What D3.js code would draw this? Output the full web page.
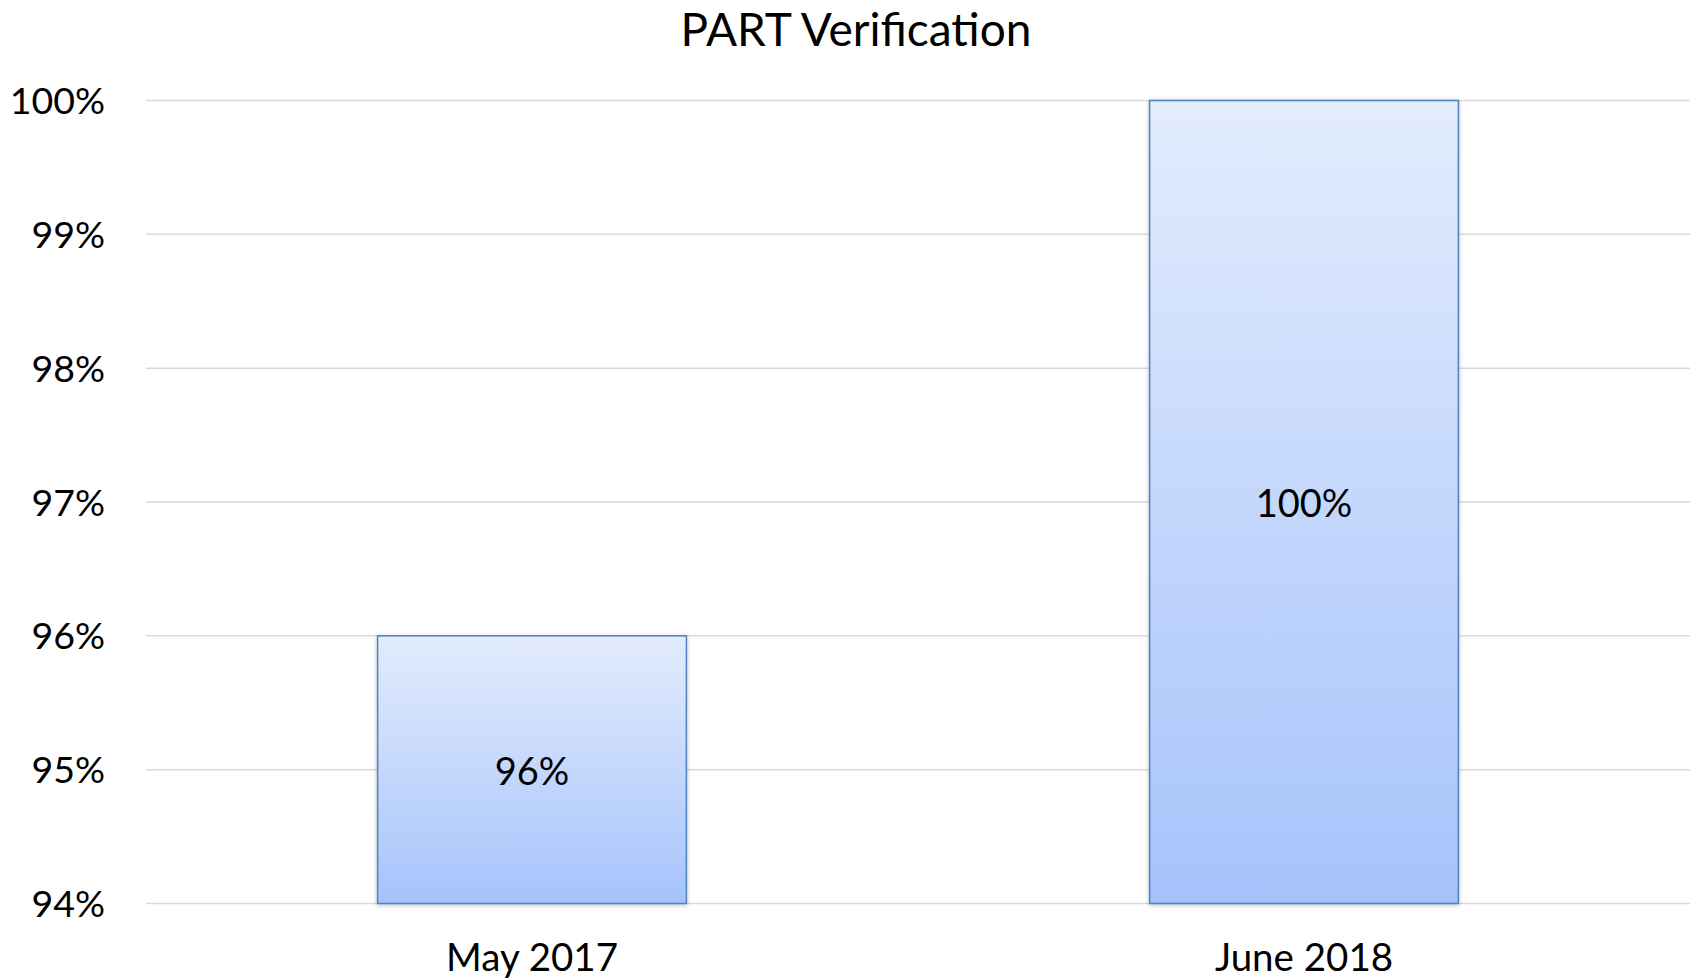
<!DOCTYPE html>
<html><head><meta charset="utf-8">
<script src="https://cdn.jsdelivr.net/npm/d3@7"></script>
<style>html,body{margin:0;padding:0;background:#fff;}svg{display:block;}</style>
</head><body>
<script>
const categories = ["May 2017", "June 2018"];
const values = [96, 100];
const valueLabels = ["96%", "100%"];
const yTicks = [94, 95, 96, 97, 98, 99, 100];
const title = "PART Verification";

const W = 1696, H = 980;
const m = {left: 146, right: 6, top: 100.5, bottom: 76.5};
const font = "Lato, 'Open Sans', sans-serif";

const svg = d3.select("body").append("svg").attr("width", W).attr("height", H);
const defs = svg.append("defs");
const grad = defs.append("linearGradient").attr("id", "g").attr("x1", 0).attr("y1", 0).attr("x2", 0).attr("y2", 1);
grad.append("stop").attr("offset", "0%").attr("stop-color", "#e3ecfd");
grad.append("stop").attr("offset", "100%").attr("stop-color", "#a5c3fb");
const f = defs.append("filter").attr("id", "sh").attr("x", "-10%").attr("y", "-10%").attr("width", "120%").attr("height", "120%");
f.append("feDropShadow").attr("dx", 0).attr("dy", 1).attr("stdDeviation", 2).attr("flood-color", "#000").attr("flood-opacity", 0.25);

const x = d3.scaleBand().domain(categories).range([m.left, W - m.right]).paddingInner(0.6).paddingOuter(0.3);
const y = d3.scaleLinear().domain([94, 100]).range([H - m.bottom, m.top]);

// gridlines
svg.append("g").selectAll("line").data(yTicks).join("line")
  .attr("x1", m.left).attr("x2", W - m.right)
  .attr("y1", d => y(d)).attr("y2", d => y(d))
  .attr("stroke", "#d9d9d9").attr("stroke-width", 1.5);

// y axis labels
const yAxis = d3.axisLeft(y).tickValues(yTicks).tickFormat(d => d + "%").tickSize(0).tickPadding(0);
const ya = svg.append("g").attr("transform", `translate(${105},0)`).call(yAxis);
ya.select(".domain").remove();
ya.selectAll("text").attr("font-family", font).attr("font-size", 37.5).attr("fill", "#000").attr("dy", "0.35em");

// bars
svg.append("g").selectAll("rect").data(values).join("rect")
  .attr("x", (d, i) => x(categories[i]))
  .attr("width", x.bandwidth())
  .attr("y", d => y(d))
  .attr("height", d => y(94) - y(d))
  .attr("fill", "url(#g)")
  .attr("stroke", "#4f81bd").attr("stroke-width", 1.5)
  .attr("filter", "url(#sh)");

// value labels
svg.append("g").selectAll("text").data(values).join("text")
  .attr("x", (d, i) => x(categories[i]) + x.bandwidth() / 2)
  .attr("y", d => (y(d) + y(94)) / 2 + 2)
  .attr("dy", "0.35em")
  .attr("text-anchor", "middle")
  .attr("font-family", font).attr("font-size", 38).attr("fill", "#000")
  .text((d, i) => valueLabels[i]);

// x axis labels
const xAxis = d3.axisBottom(x).tickSize(0).tickPadding(0);
const xa = svg.append("g").attr("transform", `translate(0,${958})`).call(xAxis);
xa.select(".domain").remove();
xa.selectAll("text").attr("font-family", font).attr("font-size", 38.5).attr("fill", "#000").attr("dy", "0.35em");

// title
svg.append("text").attr("x", 856).attr("y", 46)
  .attr("text-anchor", "middle").attr("font-family", font).attr("font-size", 46).attr("fill", "#000")
  .text(title);
</script>
</body></html>
